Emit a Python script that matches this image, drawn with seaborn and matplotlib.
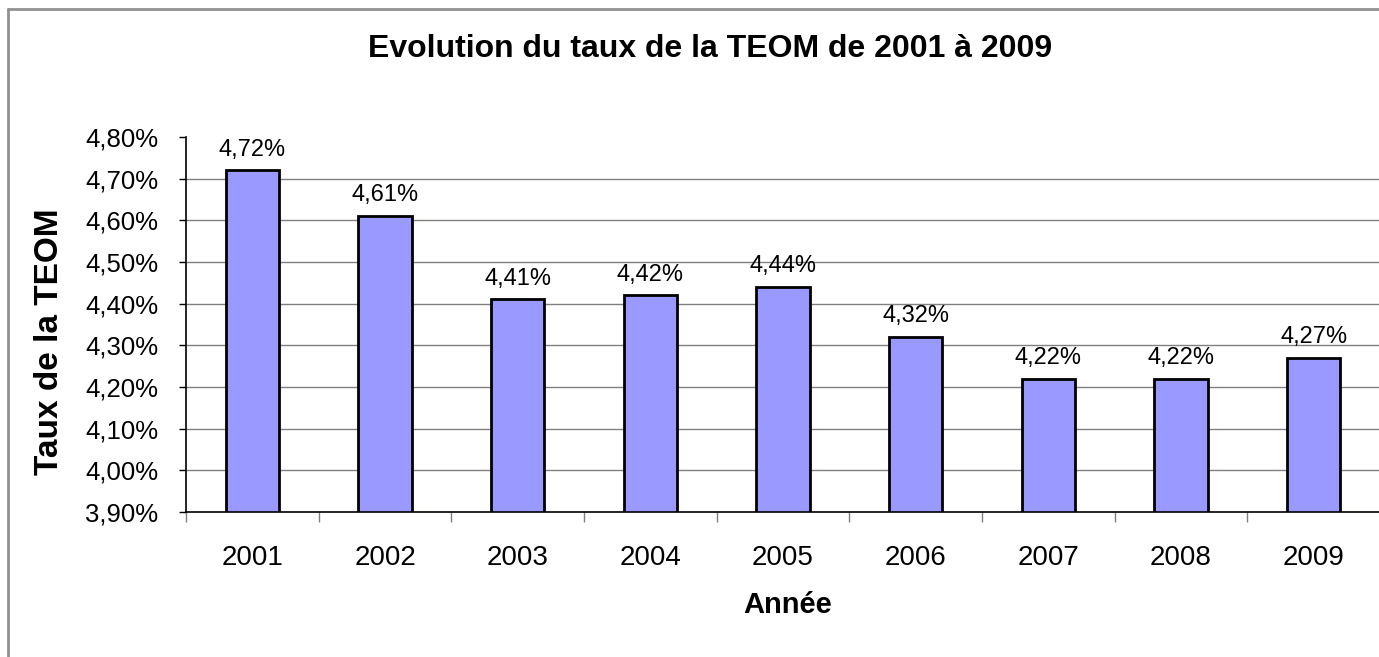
import pandas as pd
import seaborn as sns
import matplotlib.pyplot as plt
from matplotlib.ticker import FuncFormatter, MultipleLocator, FixedLocator
from matplotlib.lines import Line2D

annees = ["2001", "2002", "2003", "2004", "2005", "2006", "2007", "2008", "2009"]
taux = [4.72, 4.61, 4.41, 4.42, 4.44, 4.32, 4.22, 4.22, 4.27]

df = pd.DataFrame({"Annee": annees, "Taux": taux})

sns.set_style("white")
plt.rcParams['font.family'] = ['Liberation Sans', 'DejaVu Sans']
plt.rcParams['text.color'] = 'black'
plt.rcParams['axes.labelcolor'] = 'black'
plt.rcParams['xtick.color'] = 'black'
plt.rcParams['ytick.color'] = 'black'

fig = plt.figure(figsize=(13.79, 6.57), dpi=100)
ax = fig.add_axes([186 / 1379, 1 - 512 / 657, 1194 / 1379, 375 / 657])

sns.barplot(ax=ax, data=df, x="Annee", y="Taux", color="#9999FF",
            edgecolor="black", linewidth=2, width=0.4, saturation=1, zorder=3)

ax.set_ylim(3.9, 4.8)
ax.set_xlim(-0.5, len(annees) - 0.5)

def pct(v, pos=None):
    return ("%.2f%%" % v).replace(".", ",")

ax.yaxis.set_major_locator(MultipleLocator(0.1))
ax.yaxis.set_major_formatter(FuncFormatter(pct))
ax.tick_params(axis="y", which="major", direction="out", length=5, width=1,
               color="black", labelsize=18.5, left=True, pad=15)

# category ticks between bars
ax.xaxis.set_minor_locator(FixedLocator([i - 0.5 for i in range(len(annees) + 1)]))
ax.tick_params(axis="x", which="major", length=0, labelsize=20, pad=24)
ax.tick_params(axis="x", which="minor", direction="out", length=7, width=1,
               color="#808080", bottom=True)

# horizontal gridlines, none on the top edge
ax.grid(False)
for v in ax.get_yticks():
    if 3.95 < v < 4.75:
        ax.axhline(v, color="#808080", linewidth=1, zorder=1)

for s in ["top", "right"]:
    ax.spines[s].set_visible(False)
for s in ["left", "bottom"]:
    ax.spines[s].set_color("black")
    ax.spines[s].set_linewidth(1.2)
    ax.spines[s].set_zorder(4)

ax.bar_label(ax.containers[0], labels=[pct(v) for v in taux], padding=7, fontsize=17)

ax.set_xlabel("Année", fontsize=21, fontweight="bold", va="center")
ax.xaxis.set_label_coords((788 - 186) / 1194, -(605 - 512) / 375)
ax.set_ylabel("Taux de la TEOM", fontsize=24, fontweight="bold", va="center")
ax.yaxis.set_label_coords((50 - 186) / 1194, (512 - 342) / 375)
fig.text(710 / 1379, 1 - 49 / 657, "Evolution du taux de la TEOM de 2001 à 2009",
         ha="center", va="center", fontsize=23, fontweight="bold")

# chart border (left and top only visible)
fig.add_artist(Line2D([8 / 1379, 8 / 1379], [0, 1 - 9 / 657], transform=fig.transFigure,
                      color="#909090", linewidth=2))
fig.add_artist(Line2D([8 / 1379, 1], [1 - 9 / 657, 1 - 9 / 657], transform=fig.transFigure,
                      color="#909090", linewidth=2))

fig.savefig("out.png", dpi=100)
